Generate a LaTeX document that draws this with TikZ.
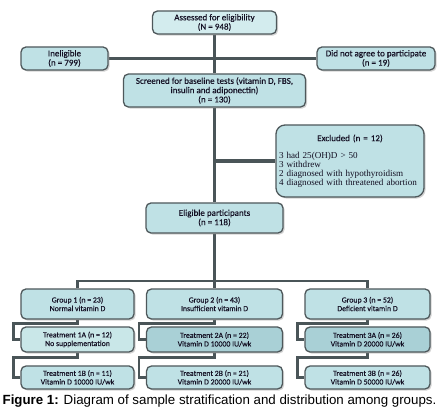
\documentclass[tikz,border=0pt]{standalone}
\usepackage{fontspec}
\setmainfont{Carlito}
\newfontfamily\boxfont{Carlito}[FakeBold=0.3]
\newfontfamily\serifx{Liberation Serif}
\newfontfamily\capfont{Liberation Sans}
\usetikzlibrary{shadows,backgrounds,calc}
\definecolor{edge}{HTML}{4E585B}
\definecolor{linec}{HTML}{4A5558}
\definecolor{fillA}{HTML}{BFE1E5}
\definecolor{fillTop}{HTML}{D3ECEE}
\definecolor{fillLight}{HTML}{C9E7E8}
\definecolor{fillDark}{HTML}{A9D0D6}
\definecolor{txt}{HTML}{141024}
\tikzset{
  box/.style={draw=edge, line width=1.3pt, rounded corners=5pt, fill=fillA,
    align=center, inner sep=1pt, font=\boxfont\fontsize{9}{9.3}\selectfont, text=txt,
    drop shadow={shadow xshift=1.6pt, shadow yshift=-1.6pt, opacity=0.35, fill=gray}},
  small/.style={font=\boxfont\fontsize{7.8}{8.6}\selectfont},
  trunk/.style={draw=linec, line width=3.2pt},
  conn/.style={draw=linec, line width=2.6pt},
}
\begin{document}
\begin{tikzpicture}[x=1pt,y=-1pt]
\useasboundingbox (0,0) rectangle (440,419);
% top part
\node[box, fill=fillTop, minimum width=124pt, minimum height=23pt] (assess) at (214.5,22.5) {Assessed for eligibility\\(N = 948)};
\node[box, minimum width=87pt, minimum height=23pt] (inel) at (64.5,58.5) {Ineligible\\(n = 799)};
\node[box, minimum width=118pt, minimum height=23pt] (nagree) at (376,58.5) {Did not agree to participate\\(n = 19)};
\node[box, minimum width=182pt, minimum height=33pt] (screen) at (214.5,90.5) {Screened for baseline tests (vitamin D, FBS,\\insulin and adiponectin)\\(n = 130)};
\node[box, rounded corners=9pt, minimum width=148pt, minimum height=72pt, inner xsep=3pt, text width=142pt, align=left] (excl) at (350,161) {{\centering Excluded (n = 12)\par}\vspace{8pt}{\serifx\fontsize{9.1}{9}\selectfont 3 had 25(OH)D > 50\\3 withdrew\\2 diagnosed with hypothyroidism\\4 diagnosed with threatened abortion}};
\node[box, minimum width=137pt, minimum height=30pt] (elig) at (214.5,218) {Eligible participants\\(n = 118)};
% groups
\node[box, small, minimum width=113pt, minimum height=30pt] (g1) at (77.5,304) {Group 1 (n = 23)\\Normal vitamin D};
\node[box, small, minimum width=136pt, minimum height=30pt] (g2) at (214.5,304) {Group 2 (n = 43)\\Insufficient vitamin D};
\node[box, small, minimum width=125pt, minimum height=30pt] (g3) at (367.5,304) {Group 3 (n = 52)\\Deficient vitamin D};
\node[box, small, fill=fillLight, minimum width=113pt, minimum height=25pt] (t1a) at (77.5,339.5) {Treatment 1A (n = 12)\\No supplementation};
\node[box, small, fill=fillDark, minimum width=136pt, minimum height=25pt] (t2a) at (214.5,339.5) {Treatment 2A (n = 22)\\Vitamin D 10000 IU/wk};
\node[box, small, fill=fillDark, minimum width=125pt, minimum height=25pt] (t3a) at (367.5,339.5) {Treatment 3A (n = 26)\\Vitamin D 20000 IU/wk};
\node[box, small, minimum width=113pt, minimum height=23pt] (t1b) at (77.5,377.5) {Treatment 1B (n = 11)\\Vitamin D 10000 IU/wk};
\node[box, small, minimum width=136pt, minimum height=23pt] (t2b) at (214.5,377.5) {Treatment 2B (n = 21)\\Vitamin D 20000 IU/wk};
\node[box, small, minimum width=125pt, minimum height=23pt] (t3b) at (367.5,377.5) {Treatment 3B (n = 26)\\Vitamin D 50000 IU/wk};
\coordinate (split) at (214.5,281);
% caption
\node[font=\capfont\fontsize{13.3}{15}\selectfont, anchor=center, inner sep=0pt] (cap) at (219.5,401) {\textbf{Figure 1:} Diagram of sample stratification and distribution among groups.};
\begin{scope}[on background layer]
\draw[trunk] (assess.south) -- (screen.north);
\draw[conn] (inel.east) -- (nagree.west);
\draw[trunk] (screen.south) -- (elig.north);
\draw[trunk] (screen.south |- excl.west) -- (excl.west);
\draw[trunk] (elig.south) -- (g2.north);
\draw[conn] (g1.north) |- (split) -| (g3.north);
\foreach \g/\a/\b in {g1/t1a/t1b, g2/t2a/t2b, g3/t3a/t3b}{
  \draw[conn] (\g.south) -- ++(0,4) -| ([xshift=-7pt]\a.west) -- (\a.west);
  \draw[conn] (\a.south) -- ++(0,5) -| ([xshift=-7pt]\b.west) -- (\b.west);
}
\end{scope}
\end{tikzpicture}
\end{document}
